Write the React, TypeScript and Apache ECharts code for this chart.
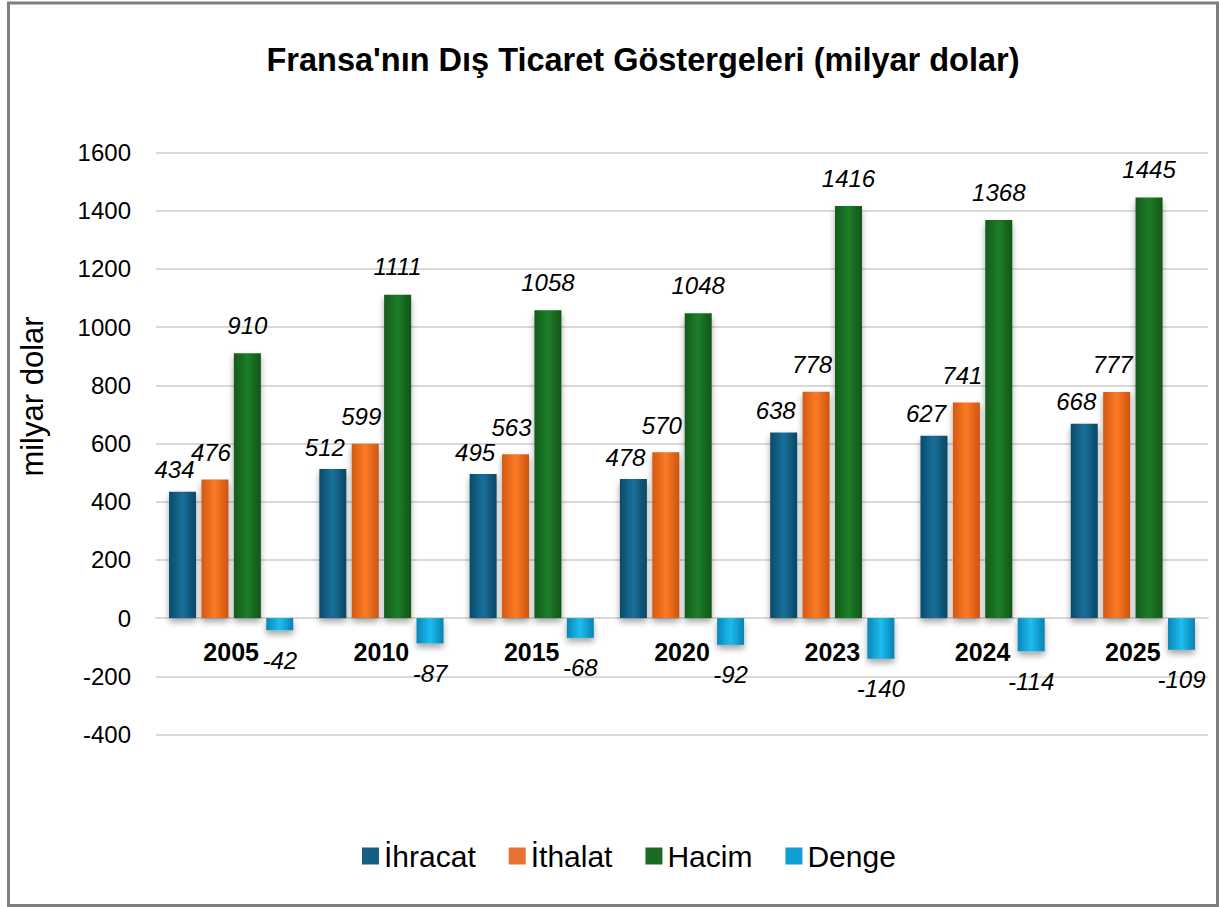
import React, { useEffect, useRef } from "react";
import * as echarts from "echarts";

const years = ["2005", "2010", "2015", "2020", "2023", "2024", "2025"];
const ihracat = [434, 512, 495, 478, 638, 627, 668];
const ithalat = [476, 599, 563, 570, 778, 741, 777];
const hacim = [910, 1111, 1058, 1048, 1416, 1368, 1445];
const denge = [-42, -87, -68, -92, -140, -114, -109];

const seriesNames = ["İhracat", "İthalat", "Hacim", "Denge"];
const FONT = "'Liberation Sans', Arial, sans-serif";

const grad = (edge: string, mid: string, edge2: string) =>
  new echarts.graphic.LinearGradient(0, 0, 1, 0, [
    { offset: 0, color: edge },
    { offset: 0.5, color: mid },
    { offset: 1, color: edge2 },
  ]);

export default function App() {
  const ref = useRef<HTMLDivElement>(null);
  useEffect(() => {
    if (!ref.current) return;
    const chart = echarts.init(ref.current, null, { renderer: "svg" });
    const labelBase = {
      show: true,
      fontFamily: FONT,
      fontSize: 24,
      lineHeight: 24,
      fontStyle: "italic" as const,
      color: "#000",
    };
    const shadow = {
      shadowColor: "rgba(0,0,0,0.35)",
      shadowBlur: 6,
      shadowOffsetY: 4,
    };
    const colors = [
      grad("#0c4a69", "#17709b", "#0b4663"),
      grad("#d45a12", "#fb7a25", "#cc5510"),
      grad("#125a1b", "#1d7e28", "#115418"),
      grad("#0a86b8", "#1cbdf0", "#0981b2"),
    ];
    const legendColors = ["#156082", "#e97132", "#196b24", "#0f9ed5"];
    const dataSets = [ihracat, ithalat, hacim, denge];
    const labelCfg = [
      { position: "top", distance: 10, offset: [-8, 0] },
      { position: "top", distance: 15, offset: [-4, 0] },
      { position: "top", distance: 16, offset: [0, 0] },
      { position: "bottom", distance: 18, offset: [0, 0] },
    ];
    const gridTop = 152.5;
    const gridBottomY = 734.5;
    const zeroY = gridTop + ((gridBottomY - gridTop) * 1600) / 2000;
    chart.setOption({
      animation: false,
      backgroundColor: "#fff",
      color: legendColors,
      title: {
        text: "Fransa'nın Dış Ticaret Göstergeleri (milyar dolar)",
        left: 638,
        textAlign: "center",
        top: 38,
        textStyle: {
          fontFamily: FONT,
          fontSize: 32.5,
          fontWeight: "bold",
          color: "#000",
        },
      },
      graphic: [
        {
          type: "rect",
          shape: { x: 8.5, y: 3, width: 1209, height: 902.5 },
          style: { fill: "none", stroke: "#7f7f7f", lineWidth: 3 },
          silent: true,
        },
      ],
      legend: {
        left: 357,
        top: 836,
        icon: "rect",
        itemWidth: 17,
        itemHeight: 17,
        itemGap: 33,
        textStyle: { fontFamily: FONT, fontSize: 30, color: "#000" },
        data: seriesNames.map((n, i) => ({
          name: n,
          itemStyle: { color: legendColors[i] },
        })),
      },
      grid: { left: 156, right: 11, top: gridTop, bottom: 907 - gridBottomY, containLabel: false },
      xAxis: {
        type: "category",
        data: years,
        position: "bottom",
        offset: -(gridBottomY - zeroY),
        axisLine: { onZero: false, lineStyle: { color: "#d9d9d9", width: 2 } },
        axisTick: { show: false },
        axisLabel: {
          fontFamily: FONT,
          fontSize: 25,
          fontWeight: "bold",
          color: "#000",
          margin: 21,
        },
        z: 1,
      },
      yAxis: {
        type: "value",
        min: -400,
        max: 1600,
        interval: 200,
        name: "milyar dolar",
        nameLocation: "middle",
        nameRotate: 90,
        nameGap: 108,
        nameTextStyle: {
          fontFamily: FONT,
          fontSize: 31,
          color: "#000",
          padding: [0, 0, 0, 94],
        },
        axisLine: { show: false },
        axisTick: { show: false },
        splitLine: { lineStyle: { color: "#d9d9d9", width: 2 } },
        axisLabel: {
          fontFamily: FONT,
          fontSize: 24,
          color: "#000",
          margin: 25,
          formatter: (v: number) => String(v),
        },
      },
      series: seriesNames.map((name, i) => ({
        name,
        type: "bar",
        data: dataSets[i],
        barWidth: 27,
        barGap: "20%",
        itemStyle: { color: colors[i], ...shadow },
        label: { ...labelBase, ...labelCfg[i] },
        z: 3,
      })),
    });
    return () => chart.dispose();
  }, []);
  return (
    <div
      ref={ref}
      style={{ position: "fixed", left: 0, top: 0, width: 1219, height: 907 }}
    />
  );
}
